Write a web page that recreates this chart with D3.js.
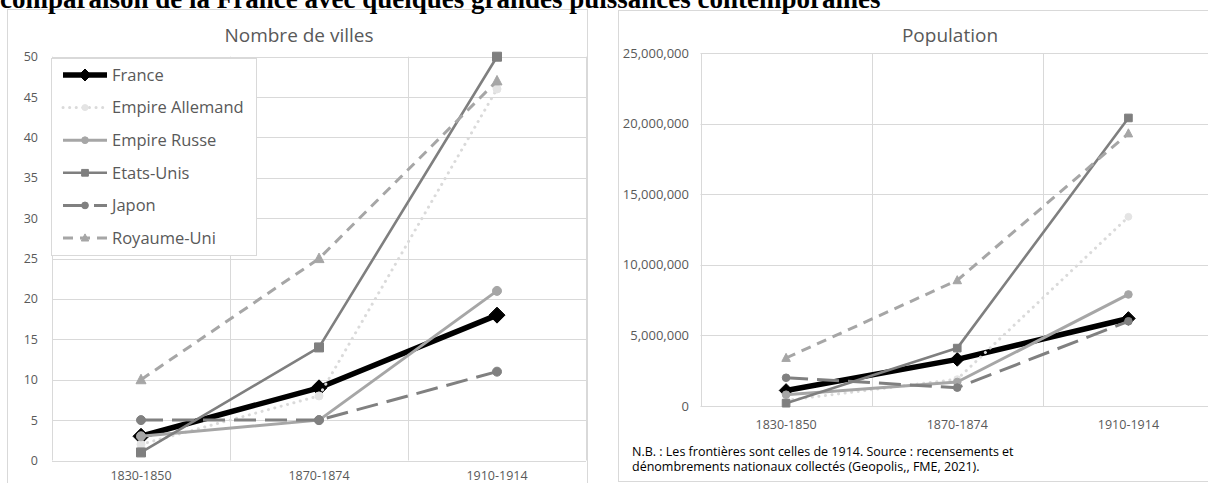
<!DOCTYPE html>
<html><head><meta charset="utf-8">
<script src="https://cdn.jsdelivr.net/npm/d3@7"></script>
<style>
html,body{margin:0;padding:0;background:#fff;overflow:hidden;}
svg{display:block;}
</style></head>
<body>
<svg id="chart" width="1208" height="483"></svg>
<script>
// ---------- data ----------
const categories = ["1830-1850", "1870-1874", "1910-1914"];
const seriesNames = ["France", "Empire Allemand", "Empire Russe", "Etats-Unis", "Japon", "Royaume-Uni"];

// Nombre de villes
const villesFrance     = [3, 9, 18];
const villesAllemand   = [2, 8, 46];
const villesRusse      = [3, 5, 21];
const villesEtatsUnis  = [1, 14, 50];
const villesJapon      = [5, 5, 11];
const villesRoyaumeUni = [10, 25, 47];

// Population
const popFrance     = [1100000, 3300000, 6200000];
const popAllemand   = [400000, 1900000, 13400000];
const popRusse      = [800000, 1700000, 7900000];
const popEtatsUnis  = [200000, 4100000, 20400000];
const popJapon      = [2000000, 1300000, 6000000];
const popRoyaumeUni = [3400000, 8900000, 19300000];

const villesTicks = [0, 5, 10, 15, 20, 25, 30, 35, 40, 45, 50];
const popTicks = [0, 5000000, 10000000, 15000000, 20000000, 25000000];

const heading = "comparaison de la France avec quelques grandes puissances contemporaines";
const note1 = "N.B. : Les frontières sont celles de 1914.  Source : recensements et";
const note2 = "dénombrements nationaux collectés (Geopolis,, FME, 2021).";

// ---------- styles (not data) ----------
const styles = [
  {color:"#000000", width:5.5, dash:null,     cap:"butt",  marker:"diamond",  msize:8,   fill:"#000"},
  {color:"#dadada", width:3,   dash:"0.1,6.5",cap:"round", marker:"circle",   msize:4,   fill:"#e4e4e4"},
  {color:"#a6a6a6", width:3,   dash:null,     cap:"butt",  marker:"circle",   msize:4.5, fill:"#a6a6a6"},
  {color:"#7f7f7f", width:2.6, dash:null,     cap:"butt",  marker:"square",   msize:4.5, fill:"#7f7f7f"},
  {color:"#808080", width:3,   dash:"22,9",   cap:"butt",  marker:"circle",   msize:4.5, fill:"#808080"},
  {color:"#a6a6a6", width:3,   dash:"10,7",   cap:"butt",  marker:"triangle", msize:5,   fill:"#a6a6a6"}
];

const FONT = "'Open Sans', 'DejaVu Sans', sans-serif";
const svg = d3.select("#chart");

function markerPath(type, s) {
  if (type === "diamond") return `M0,${-s}L${s},0L0,${s}L${-s},0Z`;
  if (type === "square") return `M${-s},${-s}H${s}V${s}H${-s}Z`;
  if (type === "triangle") return `M0,${-s*1.1}L${s},${s*0.8}L${-s},${s*0.8}Z`;
  return d3.symbol(d3.symbolCircle, Math.PI*s*s)();
}

function drawChart(cfg) {
  const g = svg.append("g");
  g.append("rect")
    .attr("x", cfg.box[0]).attr("y", cfg.box[1])
    .attr("width", cfg.box[2]).attr("height", cfg.box[3])
    .attr("fill", "#fff").attr("stroke", "#d9d9d9").attr("stroke-width", 1);

  const x = d3.scaleBand().domain(categories).range([cfg.plot.left, cfg.plot.right]).padding(0);
  const y = d3.scaleLinear().domain([0, cfg.max]).range([cfg.plot.bottom, cfg.plot.top]);

  g.append("g").selectAll("line").data(cfg.ticks).join("line")
    .attr("x1", cfg.plot.left).attr("x2", cfg.plot.right)
    .attr("y1", d => Math.round(y(d)) + 0.5).attr("y2", d => Math.round(y(d)) + 0.5)
    .attr("stroke", "#d9d9d9").attr("stroke-width", 1);
  const vb = categories.map(c => x(c)).concat([cfg.plot.right]);
  g.append("g").selectAll("line").data(vb).join("line")
    .attr("x1", d => Math.round(d) + 0.5).attr("x2", d => Math.round(d) + 0.5)
    .attr("y1", cfg.plot.top).attr("y2", cfg.plot.bottom)
    .attr("stroke", "#d9d9d9").attr("stroke-width", 1);

  const ya = g.append("g").attr("transform", `translate(${cfg.yLabelX},0)`)
    .call(d3.axisLeft(y).tickValues(cfg.ticks).tickFormat(cfg.fmt).tickSize(0).tickPadding(0));
  ya.select(".domain").remove();
  ya.selectAll("text").attr("font-family", FONT).attr("font-size", cfg.yFont).attr("fill", "#595959");

  const xa = g.append("g").attr("transform", `translate(0,${cfg.xLabelY})`)
    .call(d3.axisBottom(x).tickSize(0).tickPadding(0));
  xa.select(".domain").remove();
  xa.selectAll("text").attr("font-family", FONT).attr("font-size", cfg.xFont).attr("fill", "#595959").attr("dy", 0);

  g.append("text").attr("x", cfg.titleX).attr("y", cfg.titleY)
    .attr("text-anchor", "middle").attr("font-family", FONT)
    .attr("font-size", 19).attr("fill", "#595959").text(cfg.title);

  const cx = c => x(c) + x.bandwidth()/2;
  const line = d3.line().x(d => cx(d.c)).y(d => y(d.v));

  cfg.series.forEach((vals, i) => {
    const st = styles[i];
    const pts = vals.map((v, j) => ({c: categories[j], v}));
    g.append("path").datum(pts).attr("d", line)
      .attr("fill", "none").attr("stroke", st.color).attr("stroke-width", st.width)
      .attr("stroke-dasharray", st.dash).attr("stroke-linecap", st.cap)
      .attr("stroke-linejoin", "round");
    g.append("g").selectAll("path").data(pts).join("path")
      .attr("transform", d => `translate(${cx(d.c)},${y(d.v)})`)
      .attr("d", markerPath(st.marker, st.msize * cfg.mscale))
      .attr("fill", st.fill).attr("stroke", st.fill).attr("stroke-width", 1);
  });
  return g;
}

const left = drawChart({
  box: [7.5, 9.5, 580, 480],
  plot: {left: 52, right: 586, top: 56.7, bottom: 460.5},
  max: 50, ticks: villesTicks, fmt: d3.format("d"),
  yLabelX: 38, yFont: 12.5, xLabelY: 479.5, xFont: 12.5,
  title: "Nombre de villes", titleX: 299, titleY: 42,
  mscale: 1,
  series: [villesFrance, villesAllemand, villesRusse, villesEtatsUnis, villesJapon, villesRoyaumeUni]
});

const right = drawChart({
  box: [618.5, 10.5, 700, 471],
  plot: {left: 700.5, right: 1214, top: 53, bottom: 406},
  max: 25000000, ticks: popTicks, fmt: d3.format(","),
  yLabelX: 689, yFont: 13, xLabelY: 429, xFont: 12.5,
  title: "Population", titleX: 950, titleY: 42,
  mscale: 0.85,
  series: [popFrance, popAllemand, popRusse, popEtatsUnis, popJapon, popRoyaumeUni]
});

right.append("text").attr("x", 632).attr("y", 456).attr("font-family", FONT)
  .attr("font-size", 12.5).attr("fill", "#000").text(note1);
right.append("text").attr("x", 632).attr("y", 471).attr("font-family", FONT)
  .attr("font-size", 12.5).attr("fill", "#000").text(note2);

// legend (left chart)
const lg = left.append("g");
lg.append("rect").attr("x", 51.5).attr("y", 58.5).attr("width", 205).attr("height", 197)
  .attr("fill", "#fff").attr("stroke", "#d9d9d9");
const ly = d3.scalePoint().domain(seriesNames).range([75, 238]);
seriesNames.forEach((name, i) => {
  const st = styles[i];
  const yy = ly(name);
  lg.append("line").attr("x1", 63).attr("x2", 107).attr("y1", yy).attr("y2", yy)
    .attr("stroke", st.color).attr("stroke-width", st.width)
    .attr("stroke-dasharray", st.dash).attr("stroke-linecap", st.cap);
  lg.append("path").attr("transform", `translate(85,${yy})`)
    .attr("d", markerPath(st.marker, st.msize * 0.75))
    .attr("fill", st.fill).attr("stroke", st.fill);
  lg.append("text").attr("x", 112).attr("y", yy).attr("dy", "0.35em")
    .attr("font-family", FONT).attr("font-size", 16.5).attr("fill", "#595959").text(name);
});

// heading (cut at the top, as in the source)
svg.append("text")
  .attr("x", 0).attr("y", 7.5)
  .attr("font-family", "'Liberation Serif', 'Times New Roman', serif")
  .attr("font-weight", "bold").attr("font-size", 27)
  .attr("fill", "#000")
  .text(heading);
</script>
</body></html>
